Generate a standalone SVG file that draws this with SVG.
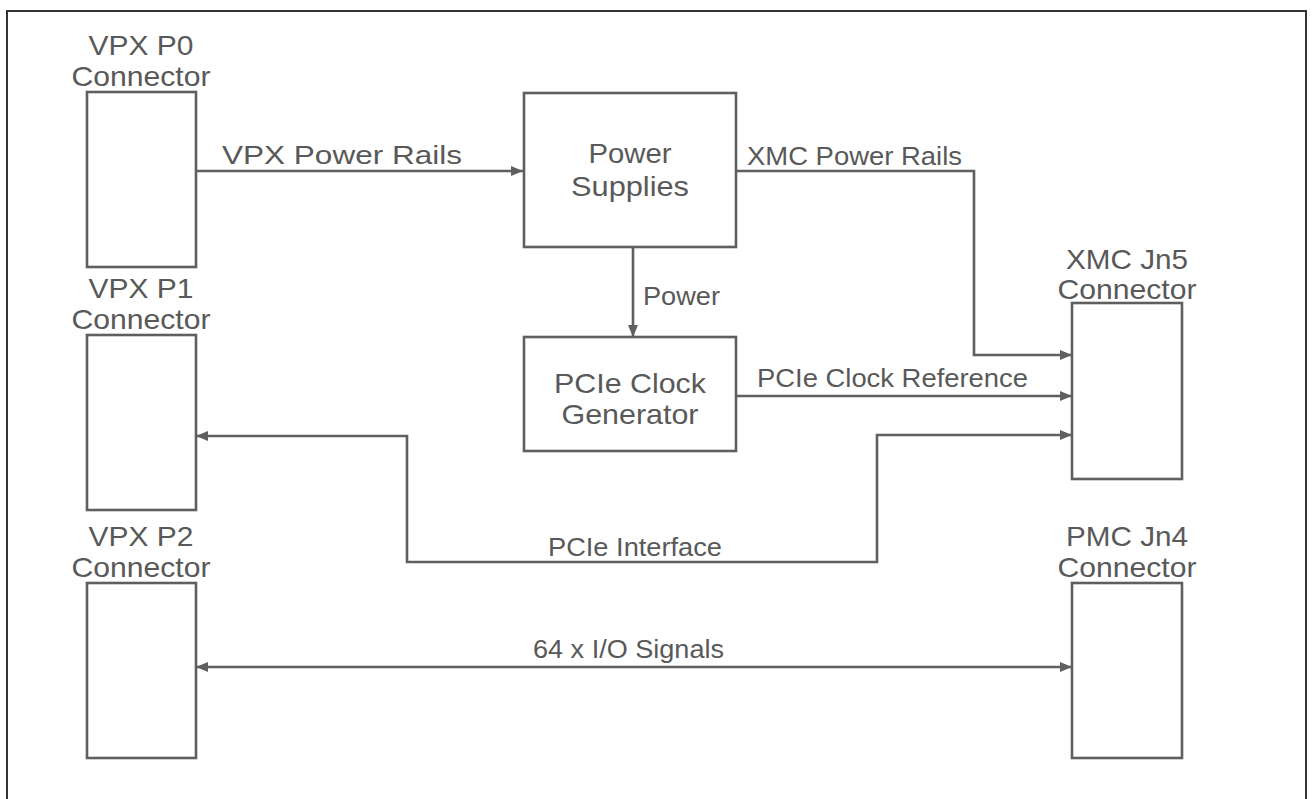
<svg xmlns="http://www.w3.org/2000/svg" width="1314" height="799" viewBox="0 0 1314 799">
<style>
.box{fill:#fff;stroke:#5f5f5f;stroke-width:2.6}
.t{font-family:"Liberation Sans",Arial,sans-serif;font-size:28px;fill:#595959;text-anchor:middle}
.l{font-family:"Liberation Sans",Arial,sans-serif;font-size:25px;fill:#595959;text-anchor:start}
.c{fill:none;stroke:#5f5f5f;stroke-width:2.6}
</style>
<defs>
<marker id="ah" viewBox="0 0 12 10" refX="12" refY="5" markerWidth="12" markerHeight="10" markerUnits="userSpaceOnUse" orient="auto-start-reverse">
<path d="M0,0 L12,5 L0,10 Z" fill="#5f5f5f"/>
</marker>
</defs>
<rect width="1314" height="799" fill="#fff"/>
<rect x="7" y="11" width="1299" height="800" fill="none" stroke="#333" stroke-width="2"/>
<g id="connectors">
<path class="c" d="M196,171 H523" marker-end="url(#ah)"/>
<path class="c" d="M736,171 H974 V355 H1072" marker-end="url(#ah)"/>
<path class="c" d="M633,247 V337" marker-end="url(#ah)"/>
<path class="c" d="M736,396 H1072" marker-end="url(#ah)"/>
<path class="c" d="M1072,435 H877 V562 H407 V436 H196" marker-start="url(#ah)" marker-end="url(#ah)"/>
<path class="c" d="M196,667 H1072" marker-start="url(#ah)" marker-end="url(#ah)"/>
<text class="l" x="222" y="164" textLength="240" lengthAdjust="spacingAndGlyphs">VPX Power Rails</text>
<text class="l" x="747" y="165" textLength="215" lengthAdjust="spacingAndGlyphs">XMC Power Rails</text>
<text class="l" x="643" y="305" textLength="77" lengthAdjust="spacingAndGlyphs">Power</text>
<text class="l" x="757" y="387" textLength="271" lengthAdjust="spacingAndGlyphs">PCIe Clock Reference</text>
<text class="l" x="548" y="556" textLength="174" lengthAdjust="spacingAndGlyphs">PCIe Interface</text>
<text class="l" x="533" y="658" textLength="191" lengthAdjust="spacingAndGlyphs">64 x I/O Signals</text>
</g>
<g id="vpx-p0">
<rect class="box" x="87" y="92" width="109" height="175"/>
<text class="t" x="141" y="55" textLength="105" lengthAdjust="spacingAndGlyphs">VPX P0</text>
<text class="t" x="141" y="86" textLength="139" lengthAdjust="spacingAndGlyphs">Connector</text>
</g>
<g id="vpx-p1">
<rect class="box" x="87" y="335" width="109" height="175"/>
<text class="t" x="141" y="298" textLength="105" lengthAdjust="spacingAndGlyphs">VPX P1</text>
<text class="t" x="141" y="329" textLength="139" lengthAdjust="spacingAndGlyphs">Connector</text>
</g>
<g id="vpx-p2">
<rect class="box" x="87" y="583" width="109" height="175"/>
<text class="t" x="141" y="546" textLength="105" lengthAdjust="spacingAndGlyphs">VPX P2</text>
<text class="t" x="141" y="577" textLength="139" lengthAdjust="spacingAndGlyphs">Connector</text>
</g>
<g id="power-supplies">
<rect class="box" x="524" y="93" width="212" height="154"/>
<text class="t" x="630" y="163" textLength="83" lengthAdjust="spacingAndGlyphs">Power</text>
<text class="t" x="630" y="196" textLength="118" lengthAdjust="spacingAndGlyphs">Supplies</text>
</g>
<g id="pcie-clock-generator">
<rect class="box" x="524" y="337" width="212" height="114"/>
<text class="t" x="630" y="393" textLength="152" lengthAdjust="spacingAndGlyphs">PCIe Clock</text>
<text class="t" x="630" y="424" textLength="137" lengthAdjust="spacingAndGlyphs">Generator</text>
</g>
<g id="xmc-jn5">
<rect class="box" x="1072" y="303" width="110" height="176"/>
<text class="t" x="1127" y="269" textLength="122" lengthAdjust="spacingAndGlyphs">XMC Jn5</text>
<text class="t" x="1127" y="299" textLength="139" lengthAdjust="spacingAndGlyphs">Connector</text>
</g>
<g id="pmc-jn4">
<rect class="box" x="1072" y="583" width="110" height="175"/>
<text class="t" x="1127" y="546" textLength="122" lengthAdjust="spacingAndGlyphs">PMC Jn4</text>
<text class="t" x="1127" y="577" textLength="139" lengthAdjust="spacingAndGlyphs">Connector</text>
</g>
</svg>
